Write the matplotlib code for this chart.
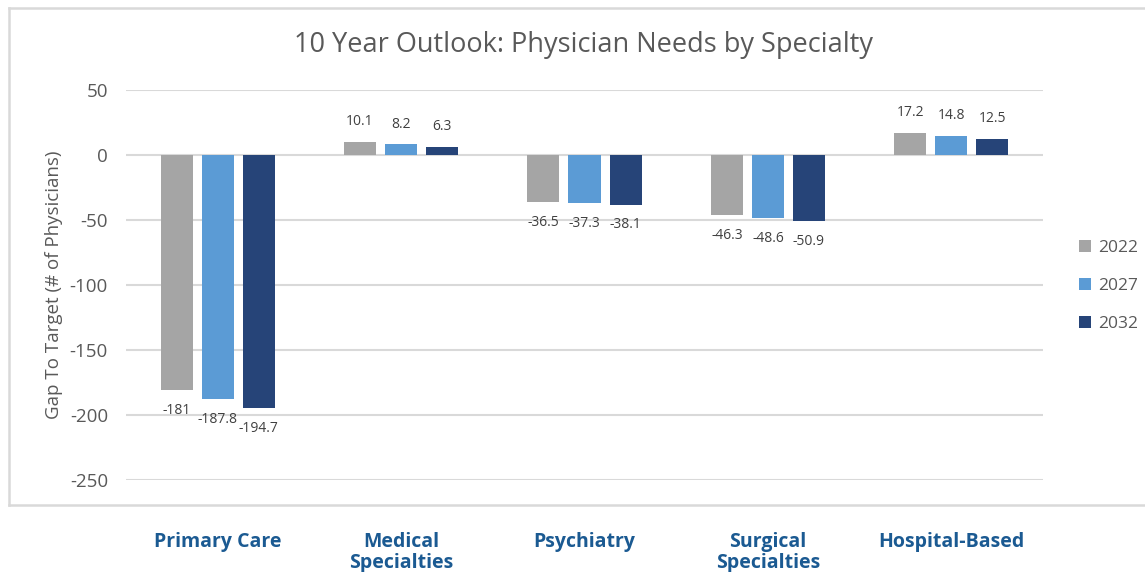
import matplotlib
matplotlib.use("Agg")
import matplotlib.pyplot as plt
import numpy as np
from matplotlib.lines import Line2D
from matplotlib.patches import Patch

categories = ["Primary Care", "Medical\nSpecialties", "Psychiatry", "Surgical\nSpecialties", "Hospital-Based"]
years = ["2022", "2027", "2032"]
v2022 = [-181, 10.1, -36.5, -46.3, 17.2]
v2027 = [-187.8, 8.2, -37.3, -48.6, 14.8]
v2032 = [-194.7, 6.3, -38.1, -50.9, 12.5]
series = [v2022, v2027, v2032]
colors = ["#A5A5A5", "#5B9BD5", "#264478"]
yticks = [50, 0, -50, -100, -150, -200, -250]

plt.rcParams['font.family'] = ['Open Sans', 'DejaVu Sans']
TXT = "#595959"

W, H = 1145, 572
fig = plt.figure(figsize=(W / 100, H / 100), dpi=100)
ax = fig.add_axes([126 / W, 1 - 480 / H, (1043 - 126) / W, (480 - 90) / H])

x = np.arange(len(categories))
bw = 0.1745
step = 0.2236
for i, (vals, c, yr) in enumerate(zip(series, colors, years)):
    pos = x + (i - 1) * step
    bars = ax.bar(pos, vals, width=bw, color=c, label=yr, zorder=3)
    for b, v in zip(bars, vals):
        off = 14.4 if v >= 0 else -14.4
        lab = f"{v:g}"
        ax.annotate(lab, (b.get_x() + b.get_width() / 2, v), xytext=(0, off),
                    textcoords="offset points", ha="center", va="center",
                    fontsize=10, color="#404040")

ax.set_xlim(-0.5, len(categories) - 0.5)
ax.set_ylim(-250, 50)
ax.set_yticks(yticks)
ax.set_yticklabels([str(t) for t in yticks])
ax.tick_params(axis="y", length=0, pad=13, labelsize=13.5, labelcolor=TXT)
ax.set_xticks([])
ax.grid(axis="y", color="#D9D9D9", linewidth=1.5, zorder=0)
for s in ax.spines.values():
    s.set_visible(False)

ax.set_ylabel("Gap To Target (# of Physicians)", fontsize=13.5, color=TXT, labelpad=5)

for xi, cat in zip(x, categories):
    ax.text(xi, -0.133, cat, transform=ax.get_xaxis_transform(), ha="center", va="top",
            fontsize=14, fontweight="bold", color="#1B5A92", linespacing=1.1, clip_on=False)

fig.text(583 / W, 1 - 45 / H, "10 Year Outlook: Physician Needs by Specialty",
         ha="center", va="center", fontsize=19.5, color=TXT)

# legend
handles = [Patch(facecolor=c, edgecolor="none") for c in colors]
leg = fig.legend(handles, years, loc="center left", bbox_to_anchor=(1063 / W, 1 - 286 / H),
                 frameon=False, fontsize=12.5, labelcolor=TXT, handlelength=0.7, handleheight=0.7,
                 handletextpad=0.45, labelspacing=1.25)

# outer border
bc = "#D9D9D9"
fig.add_artist(Line2D([9 / W, 9 / W], [1 - 8 / H, 1 - 505 / H], color=bc, lw=1.8, transform=fig.transFigure))
fig.add_artist(Line2D([9 / W, 1.01], [1 - 8 / H, 1 - 8 / H], color=bc, lw=1.8, transform=fig.transFigure))
fig.add_artist(Line2D([9 / W, 1.01], [1 - 505 / H, 1 - 505 / H], color=bc, lw=1.8, transform=fig.transFigure))

fig.savefig("out.png", dpi=100)
